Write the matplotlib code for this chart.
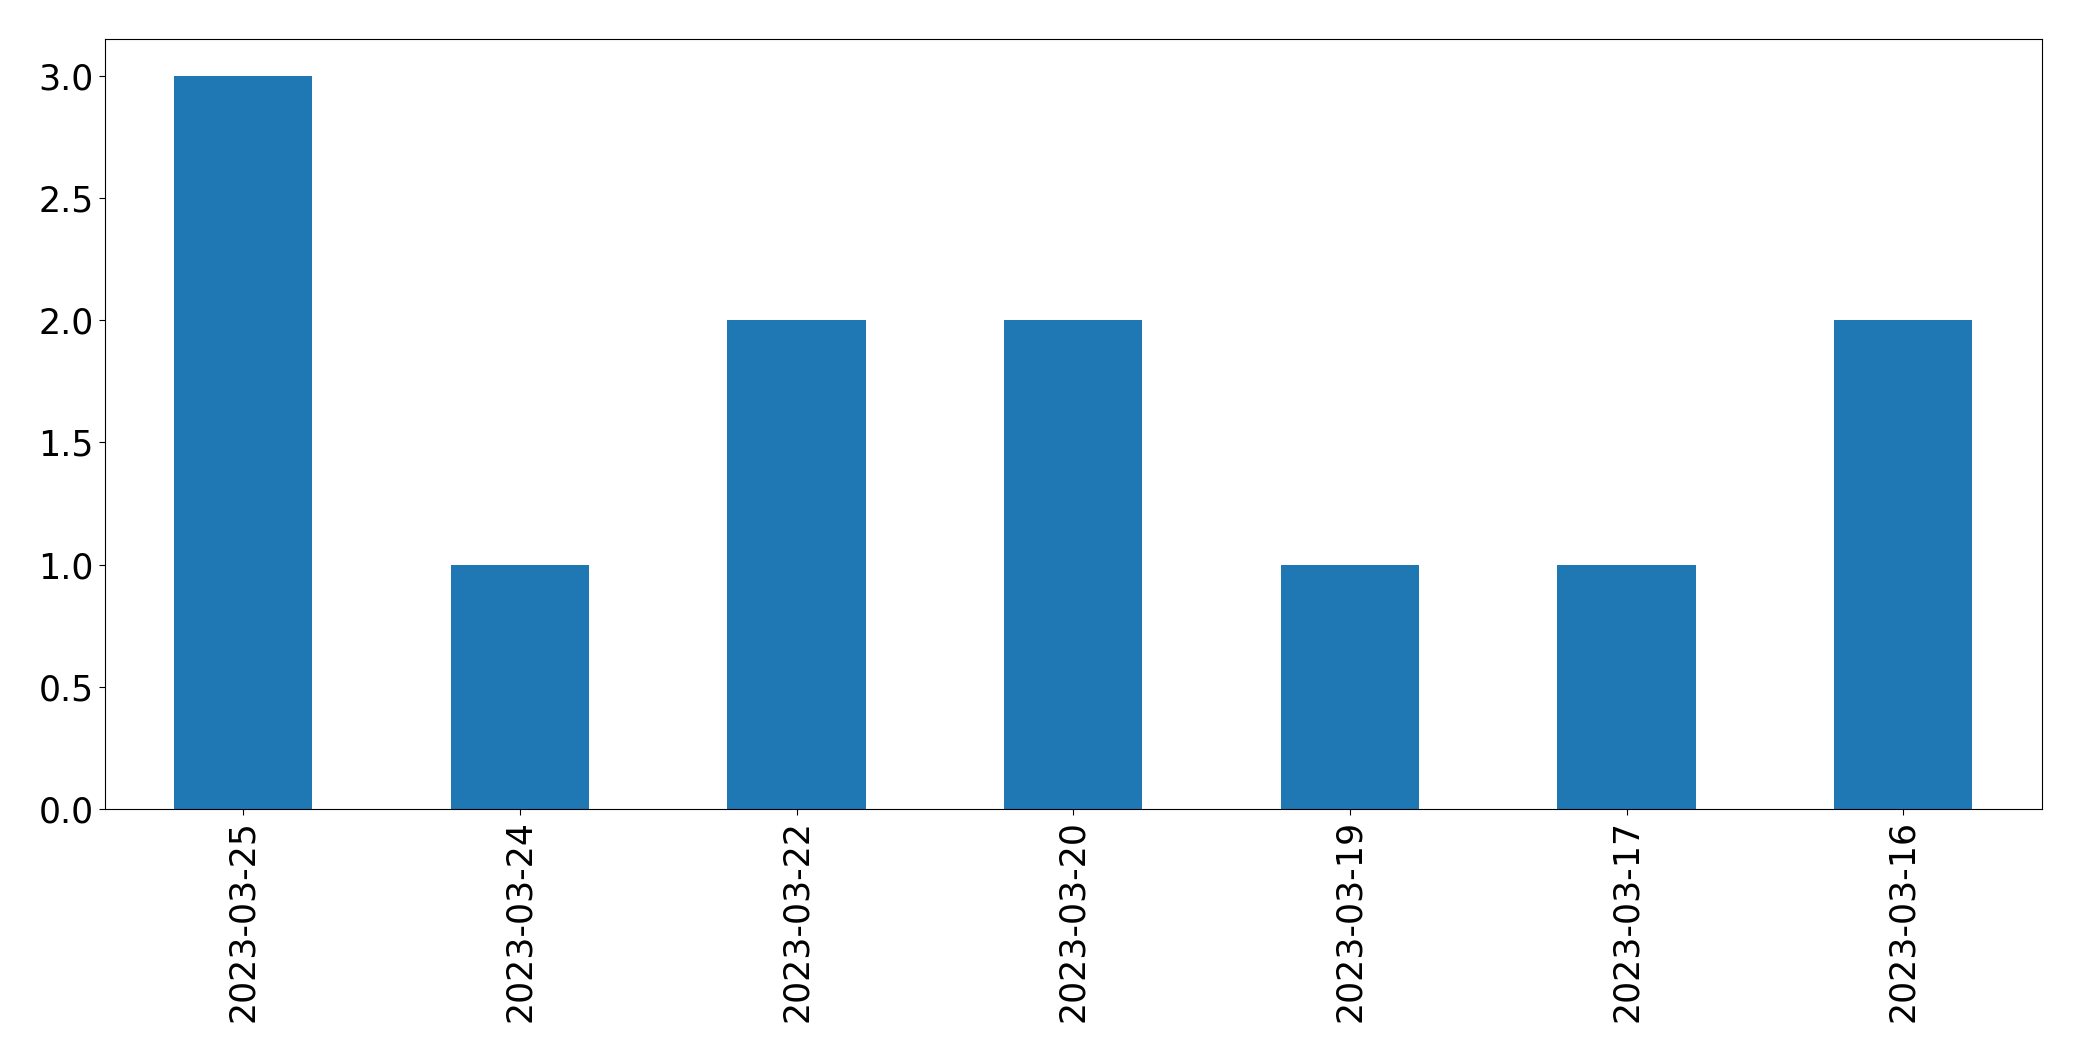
import matplotlib
matplotlib.use("Agg")
import matplotlib.pyplot as plt
import pandas as pd

dates = ["2023-03-25", "2023-03-24", "2023-03-22", "2023-03-20",
         "2023-03-19", "2023-03-17", "2023-03-16"]
counts = [3, 1, 2, 2, 1, 1, 2]

s = pd.Series(counts, index=dates)

fig = plt.figure(figsize=(20.82, 10.61), dpi=100)
ax = fig.add_axes([0.0504, 0.2375, 0.9302, 0.7255])
s.plot(kind="bar", ax=ax, color="#1f77b4")
ax.tick_params(axis="both", labelsize=25, length=4.5)
ax.set_xlabel("")
fig.savefig("out.png", dpi=100)
